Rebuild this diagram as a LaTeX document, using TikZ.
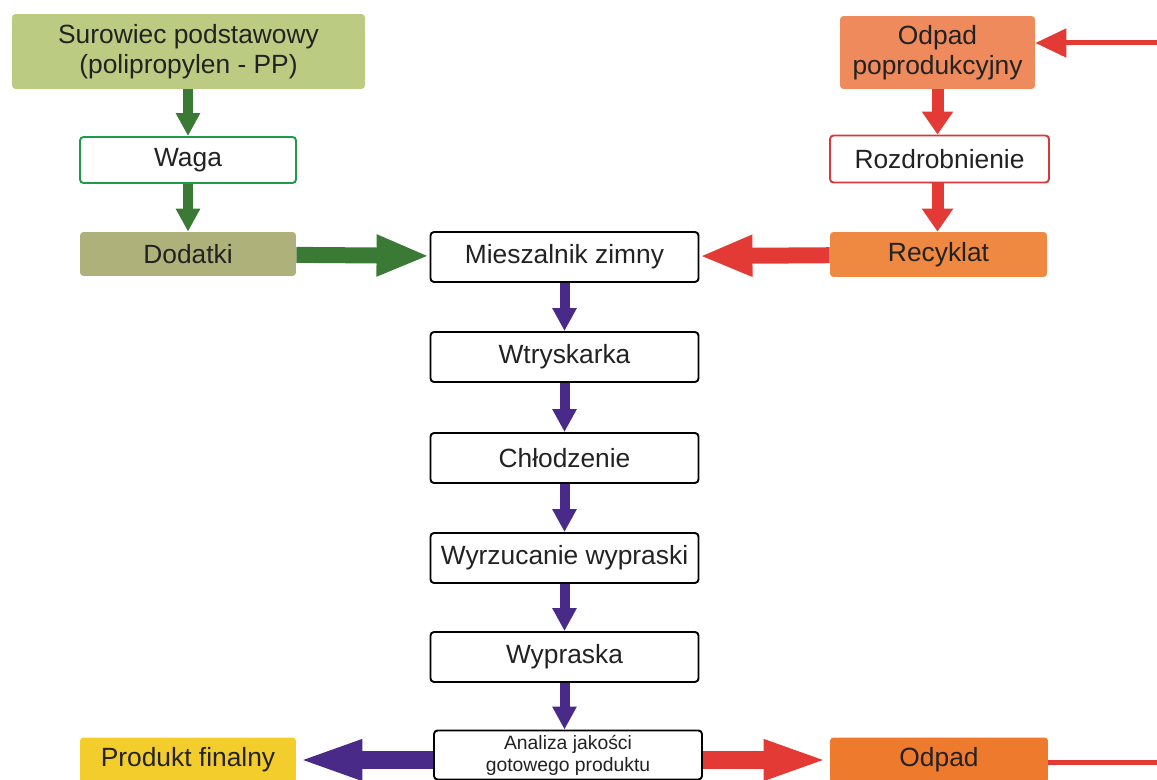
\documentclass[tikz,border=0pt]{standalone}
\usepackage{fontspec}
\setmainfont{Liberation Sans}
\usepackage{tikz}
\usetikzlibrary{arrows.meta}

\definecolor{surgreen}{HTML}{BCCB82}
\definecolor{dodolive}{HTML}{AEB27A}
\definecolor{wagagreen}{HTML}{1E9A4A}
\definecolor{arrgreen}{HTML}{3B7A35}
\definecolor{odppsalmon}{HTML}{EF8A5C}
\definecolor{recyorange}{HTML}{EF8840}
\definecolor{odpadorange}{HTML}{EE7A2E}
\definecolor{arrred}{HTML}{E43A35}
\definecolor{rozdred}{HTML}{D9383A}
\definecolor{prodyellow}{HTML}{F3CD2C}
\definecolor{arrpurple}{HTML}{4A2A88}
\definecolor{txt}{HTML}{222222}

\begin{document}
\begin{tikzpicture}[x=0.02cm,y=-0.02cm,
  box/.style={rounded corners=2pt,inner sep=0pt,align=center,text=txt,
    font=\fontsize{15}{17}\selectfont},
  procbox/.style={box,draw=black,line width=1.1pt,fill=white,
    minimum width=5.36cm,minimum height=1.0cm},
  sidebox/.style={box,minimum width=4.32cm,minimum height=0.9cm},
  smallarr/.style={line width=0.2cm,-{Triangle[length=0.46cm,width=0.46cm]}},
  bigarr/.style={line width=0.32cm,-{Triangle[length=1.06cm,width=0.76cm]}},
  lowarr/.style={line width=0.36cm,-{Triangle[length=1.32cm,width=0.72cm]}}]
\useasboundingbox (0,0) rectangle (1157,780);

% left column
\node[box,fill=surgreen,minimum width=7.06cm,minimum height=1.5cm] (sur) at (188.5,51.5) {Surowiec podstawowy\\(polipropylen - PP)};
\node[sidebox,draw=wagagreen,line width=1.1pt,fill=white,minimum height=0.92cm] (waga) at (188,160) {Waga};
\node[sidebox,fill=dodolive,minimum height=0.88cm] (dod) at (188,254) {Dodatki};

% right column
\node[box,fill=odppsalmon,minimum width=3.9cm,minimum height=1.46cm] (odpp) at (937.5,52.5) {Odpad\\poprodukcyjny};
\node[sidebox,draw=rozdred,line width=1.1pt,fill=white,minimum width=4.38cm,minimum height=0.94cm] (rozd) at (939.5,159) {Rozdrobnienie};
\node[sidebox,fill=recyorange,minimum width=4.34cm] (recy) at (938.5,254.5) {Recyklat};

% middle column
\node[procbox] (mies) at (564.5,257) {Mieszalnik zimny};
\node[procbox] (wtr) at (564.5,357) {Wtryskarka};
\node[procbox] (chl) at (564.5,458) {Chłodzenie};
\node[procbox] (wyrz) at (564.5,558) {Wyrzucanie wypraski};
\node[procbox] (wypr) at (564.5,657) {Wypraska};
\node[procbox,font=\fontsize{11}{12.5}\selectfont,minimum height=0.98cm] (anal) at (568,755) {Analiza jakości\\gotowego produktu};

% bottom
\node[sidebox,fill=prodyellow] (prod) at (188,760) {Produkt finalny};
\node[sidebox,fill=odpadorange,minimum width=4.36cm] (odpad) at (939,760) {Odpad};

\coordinate (inR) at (1157,43);
\coordinate (outR) at (1157,762);

\draw[smallarr,draw=arrgreen] (waga.north |- sur.south) to (waga.north);
\draw[smallarr,draw=arrgreen] (waga.south) to (dod.north);
\draw[bigarr,draw=arrgreen] (dod) to (mies);

\draw[line width=0.1cm,draw=arrred,-{Triangle[length=0.62cm,width=0.56cm]}] (inR) to (inR -| odpp.east);
\draw[line width=0.24cm,draw=arrred,-{Triangle[length=0.46cm,width=0.6cm]}] (odpp.south) to (odpp.south |- rozd.north);
\draw[line width=0.24cm,draw=arrred,-{Triangle[length=0.46cm,width=0.6cm]}] (odpp.south |- rozd.south) to (odpp.south |- recy.north);
\draw[bigarr,draw=arrred] (recy) to (mies);

\draw[smallarr,draw=arrpurple] (mies) to (wtr);
\draw[smallarr,draw=arrpurple] (wtr) to (chl);
\draw[smallarr,draw=arrpurple] (chl) to (wyrz);
\draw[smallarr,draw=arrpurple] (wyrz) to (wypr);
\draw[smallarr,draw=arrpurple] (wypr.south) to (wypr.south |- anal.north);

\draw[lowarr,draw=arrpurple] (anal.west |- prod) to (prod.east);
\draw[lowarr,draw=arrred] (anal.east |- odpad) to (odpad.west);
\draw[line width=0.1cm,draw=arrred] (odpad.east |- outR) to (outR);

\end{tikzpicture}
\end{document}
